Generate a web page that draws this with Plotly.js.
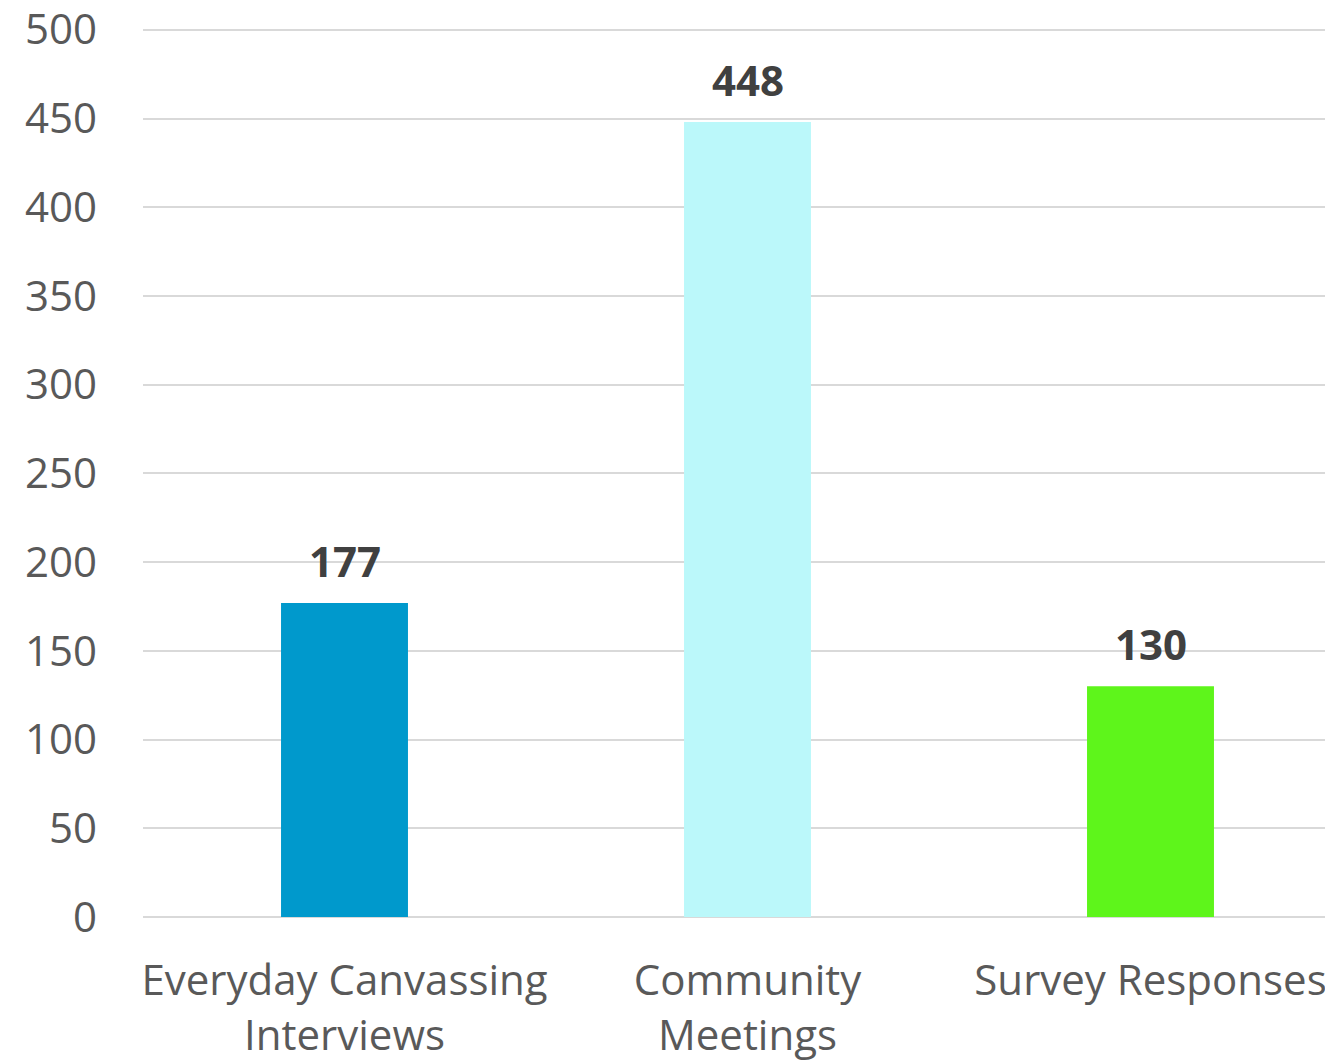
<!DOCTYPE html>
<html>
<head>
<meta charset="utf-8">
<script src="https://cdn.plot.ly/plotly-3.0.1.min.js"></script>
<style>
html,body{margin:0;padding:0;background:#fff;}
#chart{width:1325px;height:1060px;}
</style>
</head>
<body>
<div id="chart"></div>
<script>
const categories = ["Everyday Canvassing<br>Interviews", "Community<br>Meetings", "Survey Responses"];
const values = [177, 448, 130];
const barColors = ["#0099CC", "#BBF8FA", "#5EF51B"];
const yTicks = [0, 50, 100, 150, 200, 250, 300, 350, 400, 450, 500];

const FONT = "Open Sans, Lato, sans-serif";

const trace = {
  type: "bar",
  x: categories,
  y: values,
  marker: {color: barColors, line: {width: 0}},
  width: 0.315,
  hoverinfo: "none"
};

const annotations = categories.map((c, i) => ({
  x: c, y: values[i], xref: "x", yref: "y",
  text: "<b>" + values[i] + "</b>",
  showarrow: false, yanchor: "bottom", yshift: 12,
  font: {family: FONT, size: 42, color: "#404040"}
}));

const layout = {
  width: 1325, height: 1060,
  margin: {l: 143, r: 0, t: 28, b: 143, pad: 0},
  paper_bgcolor: "#ffffff", plot_bgcolor: "#ffffff",
  showlegend: false,
  font: {family: FONT, color: "#595959"},
  xaxis: {
    type: "category",
    range: [-0.5, 2.433],
    showgrid: false, zeroline: false, showline: false,
    ticks: "", ticklabelstandoff: 35,
    ticklabeloverflow: "allow",
    tickfont: {family: FONT, size: 42, color: "#595959"},
    fixedrange: true
  },
  yaxis: {
    range: [0, 501],
    tickvals: yTicks,
    ticktext: yTicks.map(String),
    showgrid: true, gridcolor: "#D9D9D9", gridwidth: 2,
    zeroline: true, zerolinecolor: "#D9D9D9", zerolinewidth: 2,
    showline: false, ticks: "", ticklabelstandoff: 45,
    ticklabeloverflow: "allow",
    tickfont: {family: FONT, size: 42, color: "#595959"},
    fixedrange: true
  },
  annotations: annotations
};

Plotly.newPlot("chart", [trace], layout, {displayModeBar: false, staticPlot: true});
</script>
</body>
</html>
